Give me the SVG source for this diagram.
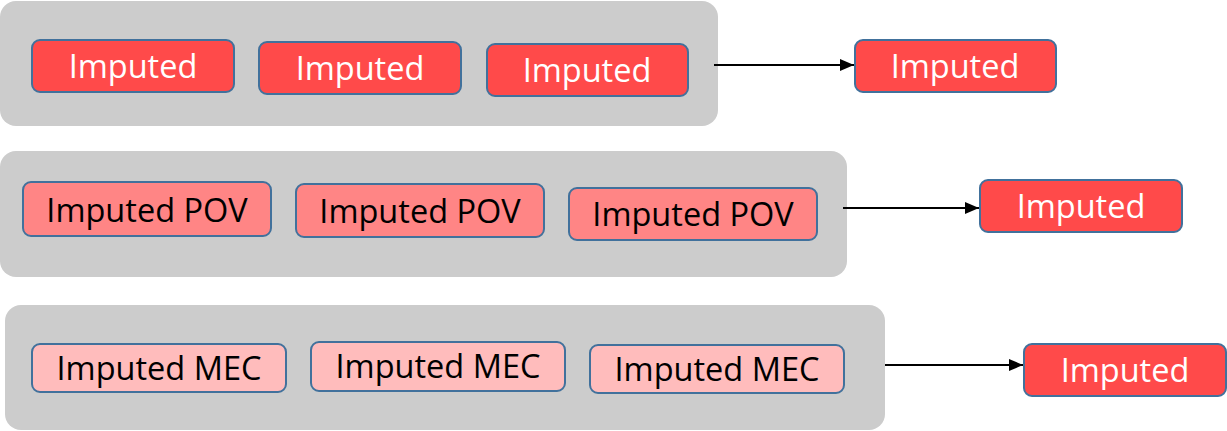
<svg xmlns="http://www.w3.org/2000/svg" width="1227" height="431" viewBox="0 0 1227 431">
<style>
.grp{fill:#cccccc;}
.box{stroke:#41719c;stroke-width:2;}
.r1{fill:#ff4a4a;}
.r2{fill:#ff8585;}
.r3{fill:#ffbcbc;}
text{font-family:"Open Sans","Liberation Sans",sans-serif;font-size:32.5px;text-anchor:middle;}
.w{fill:#ffffff;}
.k{fill:#000000;}
.conn{stroke:#000;stroke-width:2;fill:none;marker-end:url(#ah);}
</style>
<defs>
<marker id="ah" markerWidth="14" markerHeight="12" refX="14" refY="6" orient="auto" markerUnits="userSpaceOnUse">
<path d="M0,0 L14,6 L0,12 Z" fill="#000"/>
</marker>
</defs>
<g id="group1"><rect class="grp" x="0" y="1" width="718" height="125" rx="16"/></g>
<g id="group2"><rect class="grp" x="0" y="151" width="847" height="126" rx="16"/></g>
<g id="group3"><rect class="grp" x="5" y="305" width="880" height="125" rx="16"/></g>

<g id="n1a"><rect class="box r1" x="32" y="40" width="202" height="52" rx="8"/><text class="w" x="133" y="78">Imputed</text></g>
<g id="n1b"><rect class="box r1" x="259" y="42" width="202" height="52" rx="8"/><text class="w" x="360" y="80">Imputed</text></g>
<g id="n1c"><rect class="box r1" x="487" y="44" width="201" height="52" rx="8"/><text class="w" x="587" y="82">Imputed</text></g>
<g id="n1out"><rect class="box r1" x="855" y="40" width="201" height="52" rx="8"/><text class="w" x="955" y="78">Imputed</text></g>

<g id="n2a"><rect class="box r2" x="23" y="182" width="248" height="54" rx="8"/><text class="k" x="147" y="222">Imputed POV</text></g>
<g id="n2b"><rect class="box r2" x="296" y="184" width="248" height="53" rx="8"/><text class="k" x="420" y="223">Imputed POV</text></g>
<g id="n2c"><rect class="box r2" x="569" y="188" width="248" height="52" rx="8"/><text class="k" x="693" y="226">Imputed POV</text></g>
<g id="n2out"><rect class="box r1" x="980" y="180" width="202" height="52" rx="8"/><text class="w" x="1081" y="218">Imputed</text></g>

<g id="n3a"><rect class="box r3" x="32" y="344" width="254" height="48" rx="8"/><text class="k" x="159" y="380">Imputed MEC</text></g>
<g id="n3b"><rect class="box r3" x="311" y="342" width="254" height="49" rx="8"/><text class="k" x="438" y="378">Imputed MEC</text></g>
<g id="n3c"><rect class="box r3" x="590" y="345" width="254" height="48" rx="8"/><text class="k" x="717" y="381">Imputed MEC</text></g>
<g id="n3out"><rect class="box r1" x="1024" y="344" width="202" height="52" rx="8"/><text class="w" x="1125" y="382">Imputed</text></g>

<g id="connectors">
<line class="conn" x1="714" y1="65" x2="854" y2="65"/>
<line class="conn" x1="843" y1="208" x2="979" y2="208"/>
<line class="conn" x1="885" y1="365" x2="1023" y2="365"/>
</g>
</svg>
